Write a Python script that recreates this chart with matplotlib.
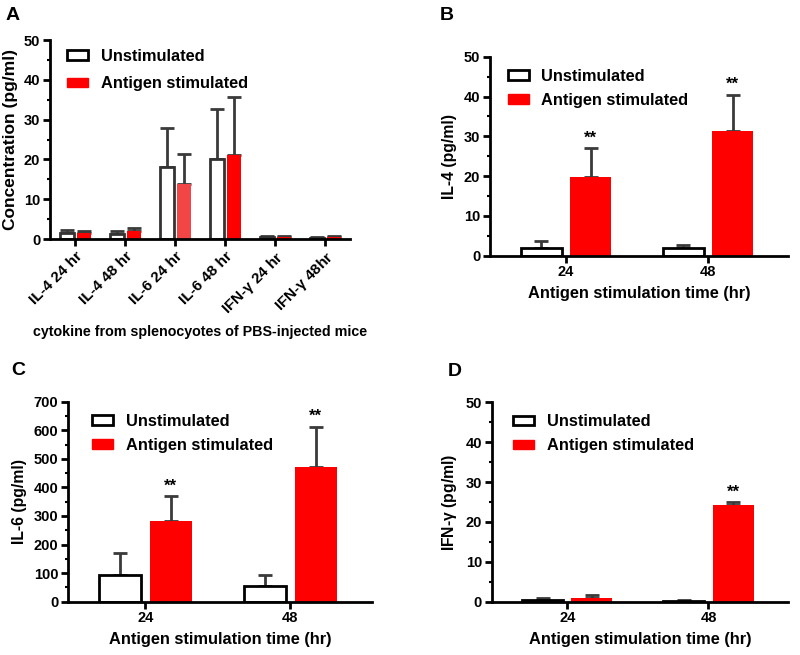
import numpy as np
import matplotlib
matplotlib.use("Agg")
import matplotlib.pyplot as plt
from matplotlib.ticker import MultipleLocator
from matplotlib.patches import Patch

plt.rcParams.update({
    "font.family": ["Liberation Sans", "DejaVu Sans"],
    "font.weight": "bold",
    "axes.labelweight": "bold",
    "mathtext.default": "regular",
})

# panel A: cytokines from PBS-injected mice
a_labels = ["IL-4 24 hr", "IL-4 48 hr", "IL-6 24 hr", "IL-6 48 hr", "IFN-$\\gamma$ 24 hr", "IFN-$\\gamma$ 48hr"]
a_unstim = [1.5, 1.3, 18.0, 20.1, 0.4, 0.3]
a_unstim_err = [0.7, 0.6, 9.8, 12.5, 0.3, 0.3]
a_stim = [1.5, 2.0, 13.8, 21.1, 0.4, 0.5]
a_stim_err = [0.5, 0.8, 7.6, 14.6, 0.3, 0.3]

# panels B-D: antigen stimulation time
times = ["24", "48"]
il4_unstim = [2.0, 2.0]
il4_unstim_err = [1.8, 0.6]
il4_stim = [19.8, 31.3]
il4_stim_err = [7.3, 9.2]

il6_unstim = [93, 55]
il6_unstim_err = [76, 37]
il6_stim = [281, 473]
il6_stim_err = [90, 140]

ifn_unstim = [0.4, 0.2]
ifn_unstim_err = [0.4, 0.1]
ifn_stim = [0.8, 24.3]
ifn_stim_err = [1.0, 0.6]

RED = "#ff0000"
ERR = "#3a3a3a"


def style_axes(ax, ymax, major, minor):
    for s in ("top", "right"):
        ax.spines[s].set_visible(False)
    for s in ("left", "bottom"):
        ax.spines[s].set_linewidth(2.0)
    ax.set_ylim(0, ymax)
    ax.yaxis.set_major_locator(MultipleLocator(major))
    ax.yaxis.set_minor_locator(MultipleLocator(minor))
    ax.tick_params(axis="both", which="major", direction="out", length=5, width=2.0,
                   labelsize=10.5, pad=2)
    ax.tick_params(axis="y", which="minor", direction="out", length=2.5, width=1.5)
    ax.tick_params(axis="x", which="minor", bottom=False)


def draw_pair(ax, x, unstim, unstim_err, stim, stim_err, w, off, ucol, scol=RED):
    ax.bar(x - off, unstim, w, color="white", edgecolor=ucol, linewidth=2.0, zorder=2)
    ax.bar(x + off, stim, w, color=scol, edgecolor="none", zorder=2)
    ax.errorbar(x - off, unstim, yerr=[np.zeros(len(x)), unstim_err], fmt="none",
                ecolor=ERR, elinewidth=2.0, capsize=5, capthick=2.0, zorder=1)
    ax.errorbar(x + off, stim, yerr=[np.zeros(len(x)), stim_err], fmt="none",
                ecolor=ERR, elinewidth=2.0, capsize=5, capthick=2.0, zorder=1)


def add_legend(ax, x0, y0, spacing):
    handles = [Patch(facecolor="white", edgecolor="black", linewidth=2.0),
               Patch(facecolor=RED, edgecolor=RED)]
    ax.legend(handles, ["Unstimulated", "Antigen stimulated"], loc="upper left",
              bbox_to_anchor=(x0, y0), frameon=False, fontsize=11.8,
              handlelength=1.3, handleheight=0.55, handletextpad=0.75,
              labelspacing=spacing, borderaxespad=0, borderpad=0)


fig = plt.figure(figsize=(8, 6.55), dpi=100)

# ---- A ----
axA = fig.add_axes([0.0625, 0.6351, 0.375, 0.3038])
xa = np.arange(len(a_labels))
a_colors = [RED, RED, "#f24545", RED, RED, RED]
draw_pair(axA, xa, a_unstim, a_unstim_err, a_stim, a_stim_err, 0.28, 0.17, "#333333", a_colors)
style_axes(axA, 50, 10, 5)
axA.set_xlim(-0.5, len(a_labels) - 0.5)
axA.set_xticks(xa)
axA.set_xticklabels(a_labels, rotation=45, ha="right", rotation_mode="anchor", fontsize=11)
axA.set_ylabel("Concentration (pg/ml)", fontsize=12.5, labelpad=4)
axA.set_xlabel("cytokine from splenocyotes of PBS-injected mice", fontsize=10.3, labelpad=5)
add_legend(axA, 0.057, 0.955, 0.75)

# ---- B, C, D ----
xt = np.arange(len(times))
panels = [
    ([0.6125, 0.6096, 0.3725, 0.3038], il4_unstim, il4_unstim_err, il4_stim, il4_stim_err,
     50, 10, 5, "IL-4 (pg/ml)", [True, True]),
    ([0.085, 0.0814, 0.3796, 0.3053], il6_unstim, il6_unstim_err, il6_stim, il6_stim_err,
     700, 100, 50, "IL-6 (pg/ml)", [True, True]),
    ([0.6146, 0.0814, 0.3704, 0.3044], ifn_unstim, ifn_unstim_err, ifn_stim, ifn_stim_err,
     50, 10, 5, "IFN-$\\gamma$ (pg/ml)", [False, True]),
]
axes = []
for rect, u, ue, s, se, ymax, major, minor, ylab, stars in panels:
    ax = fig.add_axes(rect)
    draw_pair(ax, xt, u, ue, s, se, 0.29, 0.175, "black")
    style_axes(ax, ymax, major, minor)
    ax.set_xlim(-0.535, 1.563)
    ax.set_xticks(xt)
    ax.set_xticklabels(times, fontsize=10.5)
    ax.set_ylabel(ylab, fontsize=11.3, labelpad=5)
    ax.set_xlabel("Antigen stimulation time (hr)", fontsize=11.8, labelpad=5)
    for i, flag in enumerate(stars):
        if flag:
            ax.text(xt[i] + 0.175, s[i] + se[i] + ymax * 0.012, "**", ha="center", va="bottom",
                    fontsize=12)
    axes.append(ax)

add_legend(axes[0], 0.06, 0.94, 0.55)
add_legend(axes[1], 0.079, 0.94, 0.55)
add_legend(axes[2], 0.072, 0.94, 0.55)

# panel letters
for lbl, x, y in [("A", 13, 15), ("B", 447, 15), ("C", 18, 370), ("D", 455, 372)]:
    fig.text(x / 800, 1 - y / 655, lbl, fontsize=14, fontweight="bold", ha="center", va="center")

fig.savefig("out.png", dpi=100)
